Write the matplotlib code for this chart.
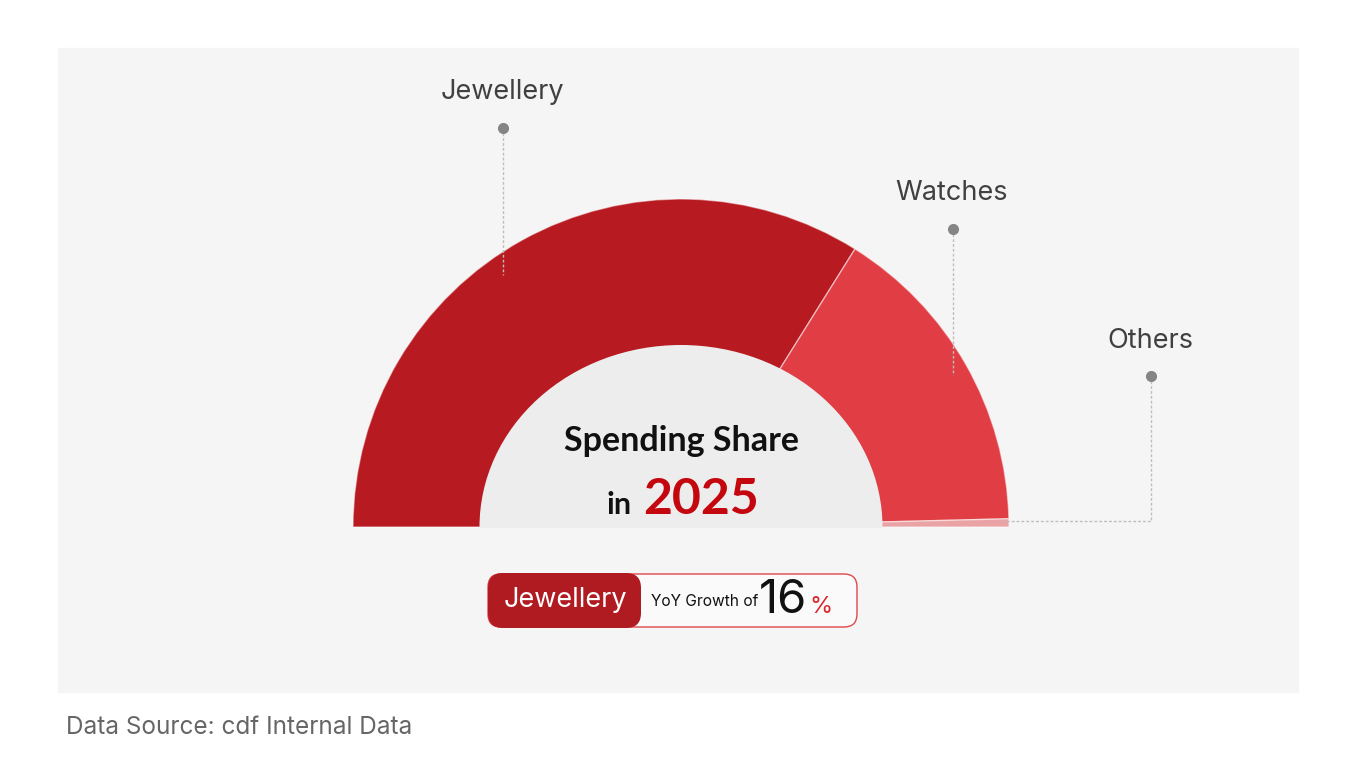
import matplotlib.pyplot as plt
from matplotlib.patches import Rectangle, Ellipse, FancyBboxPatch

# data
categories = ["Jewellery", "Watches", "Others"]
shares = [67.8, 31.4, 0.8]
year = "2025"
highlight = "Jewellery"
yoy_growth = 16
source = "Data Source: cdf Internal Data"

# styles
seg_colors = ["#b81a21", "#e03e44", "#eaa3a5"]
plt.rcParams['font.family'] = ['Inter', 'DejaVu Sans']
BOLD = ['Lato', 'DejaVu Sans']

W, H = 1350, 770
fig = plt.figure(figsize=(W / 100, H / 100), dpi=100)
ax = fig.add_axes([0, 0, 1, 1])

# panel background
ax.add_patch(Rectangle((58, 48), 1240, 644, color="#f5f5f5", zorder=0))

cx, cy, r_out = 681, 527, 328

# half pie: last hidden slice takes the lower half
vals = shares + [sum(shares)]
wedges, _ = ax.pie(vals, colors=seg_colors + ["none"], startangle=180,
                   radius=r_out, center=(cx, cy), frame=True,
                   wedgeprops=dict(edgecolor=(1, 1, 1, 0.5), linewidth=1))
wedges[-1].set_visible(False)
for w in wedges:
    w.set_zorder(2)

# inner hole (slightly squashed, as in the original)
hole = Ellipse((cx, cy), 403, 364, facecolor="#ededed", edgecolor="none", zorder=3)
ax.add_patch(hole)
hole.set_clip_path(Rectangle((0, 0), W, cy + 1, transform=ax.transData))

ax.set_xlim(0, W)
ax.set_ylim(H, 0)
ax.set_aspect('equal')
ax.axis('off')

# leader lines + labels
leaders = [[(503, 128), (503, 275)],
           [(953, 229), (953, 375)],
           [(1151, 376), (1151, 521), (1005, 521)]]
label_pos = [(502, 92), (952, 193), (1150, 341)]
for cat, pts, (lx, ly) in zip(categories, leaders, label_pos):
    xs = [p[0] for p in pts]
    ys = [p[1] for p in pts]
    ax.plot(xs, ys, ls=(0, (2, 1.5)), color="#bdbdbd", lw=1, zorder=4)
    ax.plot(xs[0], ys[0], 'o', color="#858585", ms=7, zorder=5)
    ax.text(lx, ly, cat, ha='center', va='center', fontsize=19.5, color="#404040")

# center text
ax.text(682, 441, "Spending Share", ha='center', va='center', fontsize=24.5,
        fontweight='bold', family=BOLD, color="#111111", zorder=6)
ax.text(619, 505, "in", ha='center', va='center', fontsize=22,
        fontweight='bold', family=BOLD, color="#111111", zorder=6)
ax.text(701, 500, year, ha='center', va='center', fontsize=36,
        fontweight='bold', family=BOLD, color="#c4060f", zorder=6)

# growth badge
ax.add_patch(FancyBboxPatch((488, 574), 369, 53, boxstyle="round,pad=0,rounding_size=13",
                            facecolor="#fafafa", edgecolor="#e0474c", lw=1, zorder=3))
ax.add_patch(FancyBboxPatch((488, 573), 153, 55, boxstyle="round,pad=0,rounding_size=15",
                            facecolor="#b01b22", edgecolor="none", zorder=4))
ax.text(565, 600, highlight, ha='center', va='center', fontsize=19.5, color="white", zorder=5)
ax.text(651, 601, "YoY Growth of", ha='left', va='center', fontsize=11.2,
        color="#111111", zorder=5)
ax.text(759, 601, str(yoy_growth), ha='left', va='center', fontsize=34,
        color="#111111", zorder=5)
ax.text(809, 607, "%", ha='left', va='center', fontsize=17, color="#d9282f", zorder=5)

ax.text(66, 727, source, ha='left', va='center', fontsize=17.5, color="#666666")

fig.savefig("out.png", dpi=100, facecolor="white")
